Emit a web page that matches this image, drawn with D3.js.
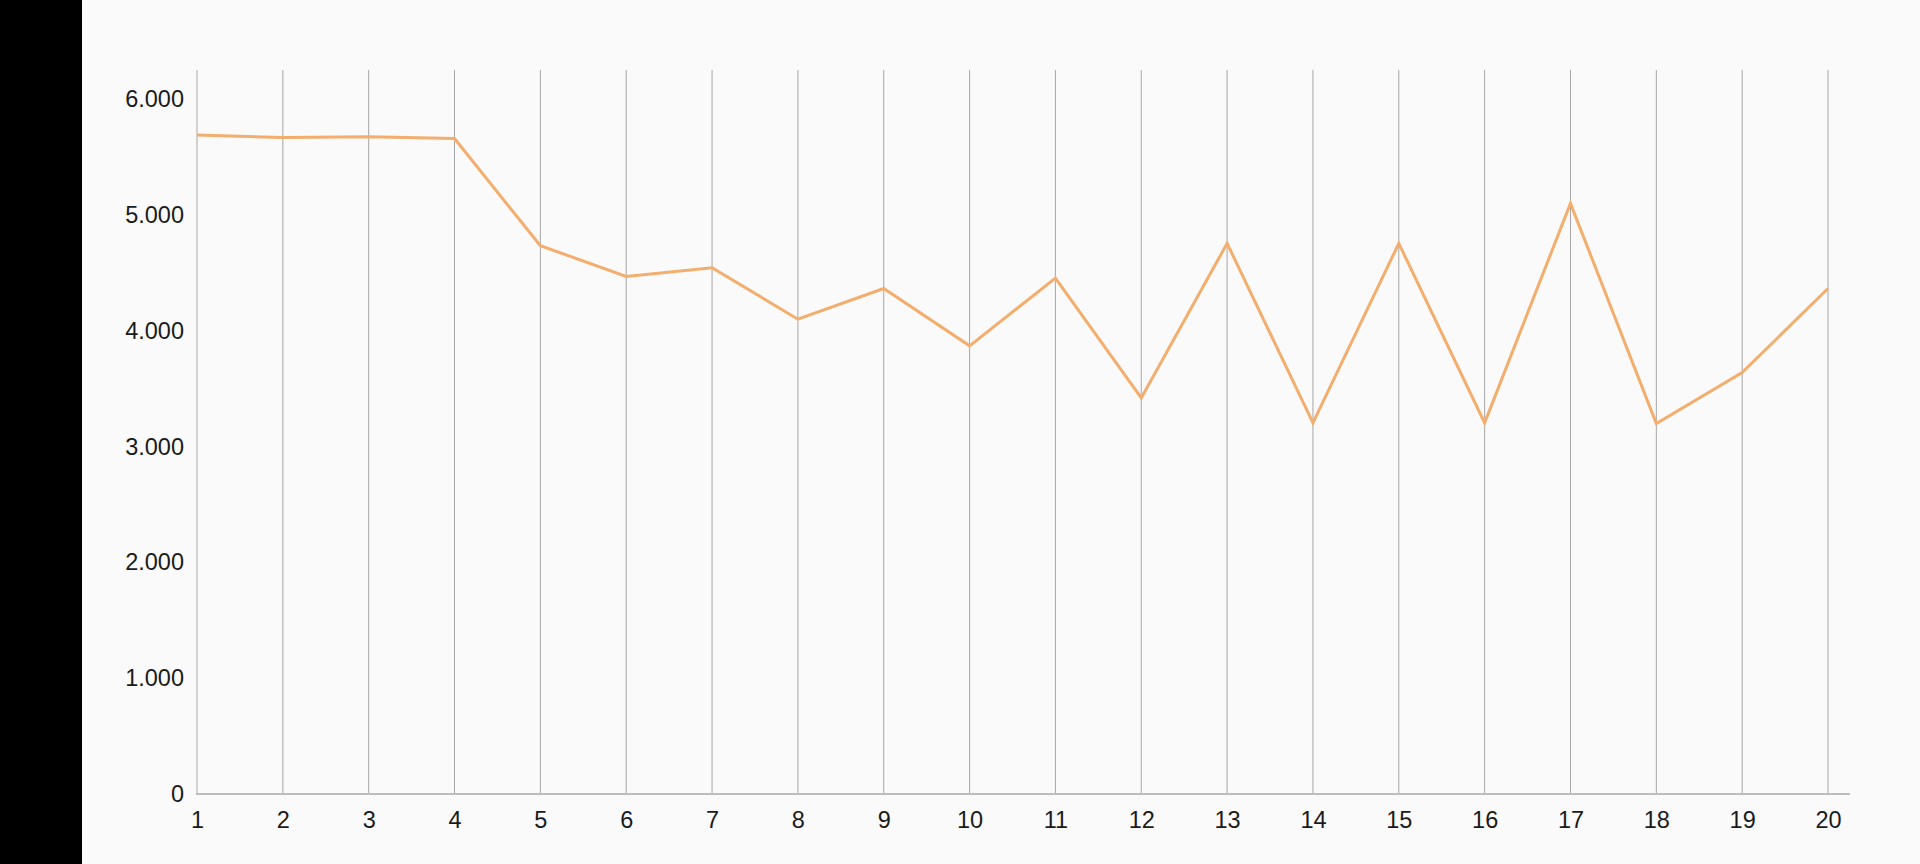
<!DOCTYPE html>
<html>
<head>
<meta charset="utf-8">
<script src="https://cdn.jsdelivr.net/npm/d3@7"></script>
<style>
html, body { margin: 0; padding: 0; background: #fafafa; }
svg { display: block; }
</style>
</head>
<body>
<svg id="chart" width="1920" height="864"></svg>
<script>
const categories = [1,2,3,4,5,6,7,8,9,10,11,12,13,14,15,16,17,18,19,20];
const values = [5690,5670,5675,5660,4735,4470,4545,4100,4365,3870,4455,3420,4755,3205,4755,3205,5100,3200,3640,4365];
const yTicks = [0,1000,2000,3000,4000,5000,6000];

const svg = d3.select("#chart");
svg.append("rect").attr("x",0).attr("y",0).attr("width",1920).attr("height",864).attr("fill","#fafafa");
svg.append("rect").attr("x",0).attr("y",0).attr("width",82).attr("height",864).attr("fill","#000");

const x = d3.scalePoint().domain(categories).range([197, 1828]);
const y = d3.scaleLinear().domain([0, 6000]).range([794, 99.2]);

const font = "'Liberation Sans', Arial, sans-serif";

// vertical grid lines
svg.append("g").selectAll("line").data(categories).join("line")
  .attr("x1", d => x(d)).attr("x2", d => x(d))
  .attr("y1", 70).attr("y2", 794)
  .attr("stroke", "#a6a6a6").attr("stroke-width", 1);

// x axis line
svg.append("line").attr("x1", 196).attr("x2", 1850).attr("y1", 794).attr("y2", 794)
  .attr("stroke", "#bdbdbd").attr("stroke-width", 2);

// x labels
const xAxis = d3.axisBottom(x).tickSize(0).tickPadding(0);
const gx = svg.append("g").attr("transform", "translate(0,811)").call(xAxis);
gx.select(".domain").remove();
gx.selectAll("text").attr("font-family", font).attr("font-size", 23.5).attr("fill", "#1a1a1a")
  .attr("dy", "0.71em");

// y labels
const yAxis = d3.axisLeft(y).tickValues(yTicks).tickSize(0).tickPadding(0)
  .tickFormat(d => d3.format(",")(d).replace(/,/g, "."));
const gy = svg.append("g").attr("transform", "translate(184,0)").call(yAxis);
gy.select(".domain").remove();
gy.selectAll("text").attr("font-family", font).attr("font-size", 23.5).attr("fill", "#1a1a1a");

// line
const line = d3.line().x((d,i) => x(categories[i])).y(d => y(d));
svg.append("path").datum(values)
  .attr("d", line).attr("fill", "none")
  .attr("stroke", "#f3ae6e").attr("stroke-width", 3).attr("stroke-linejoin", "miter");
</script>
</body>
</html>
